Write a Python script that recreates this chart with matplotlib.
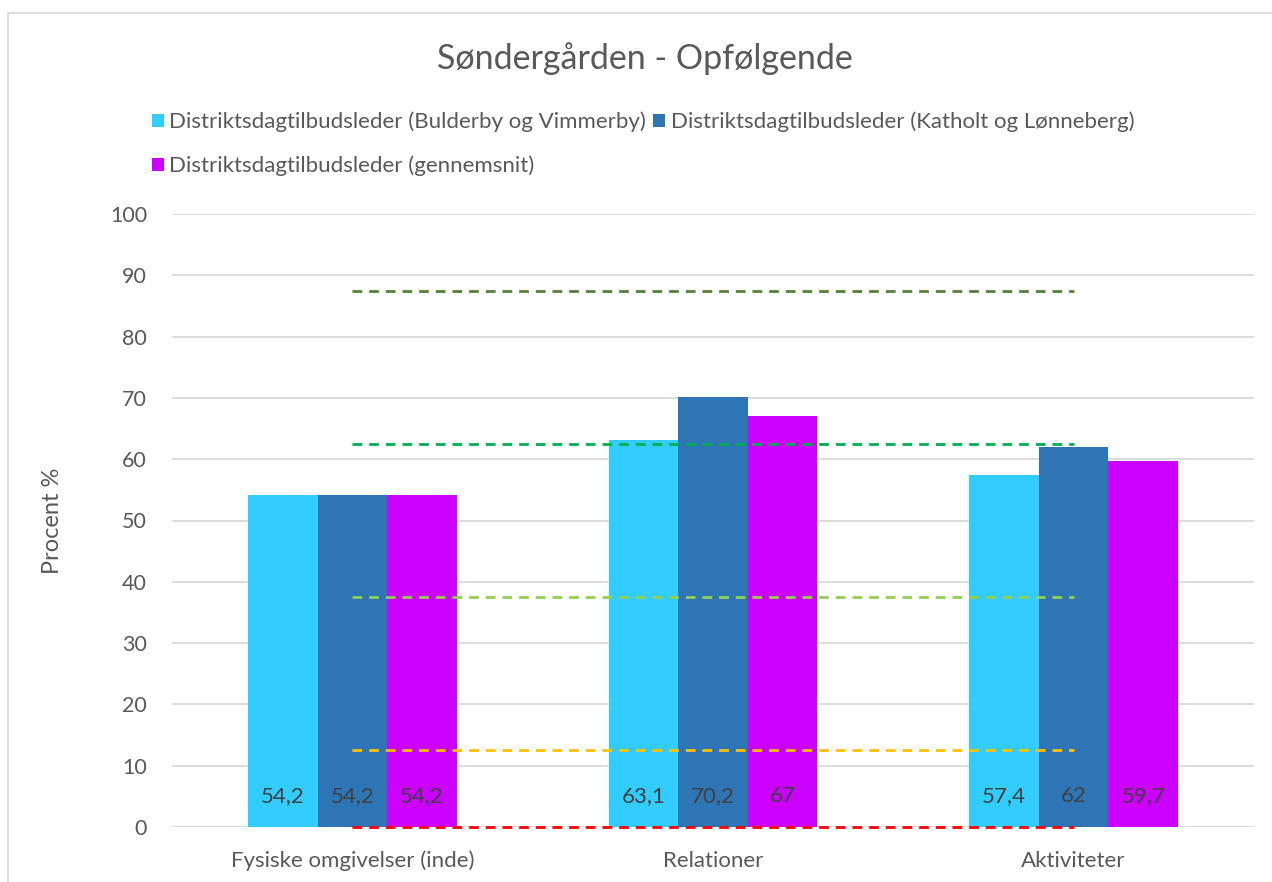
import numpy as np
import matplotlib
matplotlib.use("Agg")
import matplotlib.pyplot as plt
from matplotlib.patches import Rectangle

plt.rcParams['font.family'] = ['Lato', 'DejaVu Sans']

# Data
kategorier = ["Fysiske omgivelser (inde)", "Relationer", "Aktiviteter"]
serier = ["Distriktsdagtilbudsleder (Bulderby og Vimmerby)",
          "Distriktsdagtilbudsleder (Katholt og Lønneberg)",
          "Distriktsdagtilbudsleder (gennemsnit)"]
bulderby = [54.2, 63.1, 57.4]
katholt = [54.2, 70.2, 62.0]
gennemsnit = [54.2, 67.0, 59.7]
etiketter = [["54,2", "63,1", "57,4"],
             ["54,2", "70,2", "62"],
             ["54,2", "67", "59,7"]]
graenser = [87.5, 62.5, 37.5, 12.5, 0]
graense_farver = ["#548235", "#00b050", "#92d050", "#ffc000", "#ff0000"]
farver = ["#33ccff", "#2e75b6", "#cc00ff"]

fig = plt.figure(figsize=(12.72, 8.82), dpi=100)
ax = fig.add_axes([172/1272, 1 - 827/882, (1254-172)/1272, (827-214)/882])

x = np.arange(len(kategorier))
w = 0.193
bars = []
for i, (vals, col) in enumerate(zip([bulderby, katholt, gennemsnit], farver)):
    b = ax.bar(x + (i - 1) * w, vals, w, color=col, label=serier[i], zorder=2)
    bars.append(b)
    for xi, lab in zip(x + (i - 1) * w, etiketter[i]):
        ax.text(xi, 5, lab, ha='center', va='center', fontsize=16, color='#404040', zorder=4)

# stiplede grænselinjer
for g, c in zip(graenser, graense_farver):
    ax.plot([x[0], x[-1]], [g, g], ls=(0, (3.5, 2.5)), lw=2, color=c, zorder=3, clip_on=False)

ax.set_xlim(-0.5, 2.5)
ax.set_ylim(0, 100)
ax.set_yticks(range(0, 101, 10))
ax.set_xticks(x)
ax.set_xticklabels(kategorier)
ax.tick_params(length=0, labelsize=15.5, colors='#595959')
ax.tick_params(axis='y', pad=18)
ax.tick_params(axis='x', pad=17, labelsize=16)
ax.grid(axis='y', color='#d9d9d9', lw=1.3, zorder=0)
for s in ax.spines.values():
    s.set_visible(False)
ax.set_ylabel("Procent %", fontsize=17, color='#595959', labelpad=34)

fig.text(645/1272, 1 - 59/882, "Søndergården - Opfølgende", ha='center', va='center',
         fontsize=24.5, color='#595959')

handles = [bars[0], bars[2], bars[1]]
labels = [serier[0], serier[2], serier[1]]
fig.legend(handles, labels, loc='center', bbox_to_anchor=(643/1272, 1 - 144/882), ncol=2,
           frameon=False, fontsize=16, labelcolor='#595959', handlelength=0.55, handleheight=0.55,
           handletextpad=0.25, columnspacing=0.3, labelspacing=1.05)

fig.patches.append(Rectangle((8/1272, -0.1), 1.2, 1 - 13/882 + 0.1, transform=fig.transFigure,
                             fill=False, edgecolor='#d9d9d9', lw=1.3))

fig.savefig("out.png", dpi=100, facecolor='white')
